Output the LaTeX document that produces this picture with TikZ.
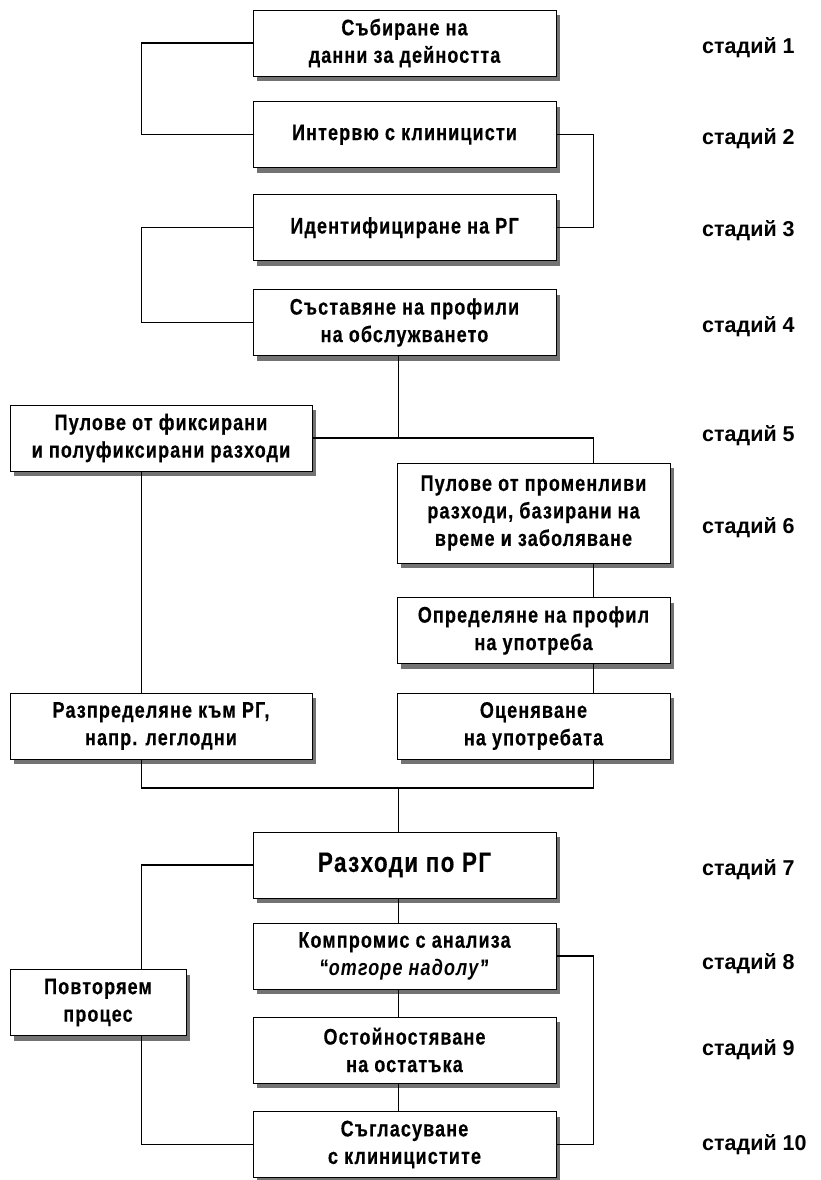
\documentclass[tikz,border=0pt]{standalone}
\usepackage{fontspec}
\setmainfont{Liberation Sans}
\newfontfamily\boxfont{Liberation Sans}[FakeStretch=0.8,LetterSpace=5,BoldFeatures={FakeBold=0.4}]
\usetikzlibrary{shadows}
\tikzset{stepbox/.style={
    draw, line width=0.8pt, fill=white, inner sep=0pt,
    minimum height=66pt, align=center,
    drop shadow={shadow xshift=3.5pt, shadow yshift=-5pt, fill=black!55, opacity=1},
    font=\boxfont\bfseries\fontsize{22.5}{27.5}\selectfont
  },
  mainbox/.style={stepbox, minimum width=303pt},
  sidebox/.style={stepbox, minimum width=273pt},
  stage/.style={font=\bfseries\fontsize{21.5}{26}\selectfont, anchor=base west, inner sep=0pt},
  link/.style={line width=1.5pt}
}

\begin{document}
\begin{tikzpicture}[x=1pt,y=-1pt]
    \useasboundingbox (0,0) rectangle (820,1180);

    \node[mainbox] (collect) at (404.5,43) {Събиране на\\данни за дейността};
    \node[mainbox] (interview) at (404.5,134.7) {Интервю с клиницисти};
    \node[mainbox] (identify) at (404.5,227.7) {Идентифициране на РГ};
    \node[mainbox] (profiles) at (404.5,322.5) {Съставяне на профили\\на обслужването};
    \node[mainbox, minimum width=302pt] (fixed) at (161,438) {Пулове от фиксирани\\и полуфиксирани разходи};
    \node[sidebox, minimum height=100pt] (variable) at (533.5,513) {Пулове от променливи\\разходи, базирани на\\време и заболяване};
    \node[sidebox] (usage) at (533.5,630.5) {Определяне на профил\\на употреба};
    \node[sidebox] (rating) at (533.5,726) {Оценяване\\на употребата};
    \node[mainbox, minimum width=302pt] (alloc) at (161,726) {Разпределяне към РГ,\\напр. леглодни};
    \node[mainbox, font=\boxfont\bfseries\fontsize{28}{32}\selectfont] (cost) at (404.5,865) {Разходи по РГ};
    \node[mainbox] (topdown) at (404.5,956) {Компромис с анализа\\“\textit{отгоре надолу}”};
    \node[mainbox] (residual) at (404.5,1050) {Остойностяване\\на остатъка};
    \node[mainbox] (agree) at (404.5,1144.5) {Съгласуване\\с клиницистите};
    \node[stepbox, minimum width=176pt] (repeat) at (98,1002.5) {Повторяем\\процес};

    \foreach \n/\y in {1/47,2/137,3/229,4/325,5/434,6/526,7/868,8/962,9/1048,10/1143}
      \node[stage] (stage\n) at (702,\y+7) {стадий \n};

    \coordinate (L) at (141.7,0);
    \coordinate (M) at (398.3,0);
    \coordinate (R) at (593.3,0);
    \coordinate (merge) at (398.3,788);

    \draw[link] (collect.west) -- (collect.west -| L) |- (interview.west);
    \draw[link] (interview.east) -- (interview.east -| R) |- (identify.east);
    \draw[link] (identify.west) -- (identify.west -| L) |- (profiles.west);
    \draw[link] (profiles.south -| M) -- (fixed.east -| M);
    \draw[link] (fixed.east) -| (variable.north -| R);
    \draw[link] (fixed.south -| L) -- (alloc.north -| L);
    \draw[link] (variable.south -| R) -- (usage.north -| R);
    \draw[link] (usage.south -| R) -- (rating.north -| R);
    \draw[link] (alloc.south -| L) |- (merge) -| (rating.south -| R);
    \draw[link] (merge) -- (cost.north -| M);
    \draw[link] (cost.south -| M) -- (topdown.north -| M);
    \draw[link] (topdown.south -| M) -- (residual.north -| M);
    \draw[link] (residual.south -| M) -- (agree.north -| M);
    \draw[link] (cost.west) -| (repeat.north -| L);
    \draw[link] (repeat.south -| L) |- (agree.west);
    \draw[link] (topdown.east) -- (topdown.east -| R) |- (agree.east);
\end{tikzpicture}
\end{document}
